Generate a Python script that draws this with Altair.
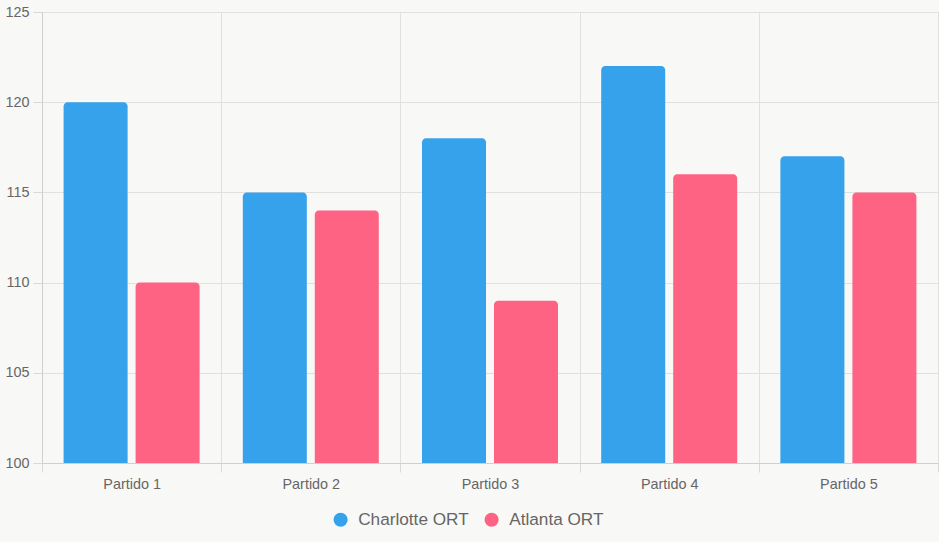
import altair as alt
import pandas as pd

partidos = ["Partido 1", "Partido 2", "Partido 3", "Partido 4", "Partido 5"]
series = ["Charlotte ORT", "Atlanta ORT"]
charlotte = [120, 115, 118, 122, 117]
atlanta = [110, 114, 109, 116, 115]
colors = ["#36a2eb", "#ff6384"]

rows = []
for i, p in enumerate(partidos):
    rows.append({"partido": p, "equipo": series[0], "valor": charlotte[i]})
    rows.append({"partido": p, "equipo": series[1], "valor": atlanta[i]})
df = pd.DataFrame(rows)

FONT = "Liberation Sans"

chart = alt.Chart(df).mark_bar(
    cornerRadiusTopLeft=4, cornerRadiusTopRight=4
).encode(
    x=alt.X("partido:N", sort=partidos, title=None,
            scale=alt.Scale(paddingInner=0, paddingOuter=0),
            axis=alt.Axis(tickBand="extent", labelAngle=0, grid=True,
                          gridColor="#e0e0e0", tickColor="#d9d9d9", tickSize=9,
                          domainColor="#cfcfcf", labelColor="#666666",
                          labelFont=FONT, labelFontSize=14.4, labelPadding=5,
                          labelFontWeight="normal")),
    xOffset=alt.XOffset("equipo:N", sort=series,
                        scale=alt.Scale(paddingInner=0.111, paddingOuter=0.3)),
    y=alt.Y("valor:Q", title=None, stack=None,
            scale=alt.Scale(domain=[100, 125], nice=False, zero=False),
            axis=alt.Axis(values=[100, 105, 110, 115, 120, 125], grid=True,
                          gridColor="#e0e0e0", tickColor="#d9d9d9", tickSize=9,
                          domainColor="#cfcfcf", labelColor="#666666",
                          labelFont=FONT, labelFontSize=14.4, labelPadding=4)),
    y2=alt.datum(100),
    color=alt.Color("equipo:N", sort=series,
                    scale=alt.Scale(domain=series, range=colors),
                    legend=alt.Legend(title=None, orient="none", direction="horizontal",
                                      legendX=290, legendY=499,
                                      symbolType="circle", symbolSize=200,
                                      symbolStrokeWidth=0,
                                      labelFont=FONT, labelFontSize=17.2,
                                      labelColor="#666666", columnPadding=14,
                                      labelOffset=9)),
).properties(
    width=896, height=451,
    background="#f8f8f6",
    padding={"left": 42, "top": 12, "right": 1, "bottom": 79},
    autosize=alt.AutoSizeParams(type="none"),
).configure_view(stroke=None)

chart.save("out.html", embed_options={"renderer": "svg", "actions": False})
